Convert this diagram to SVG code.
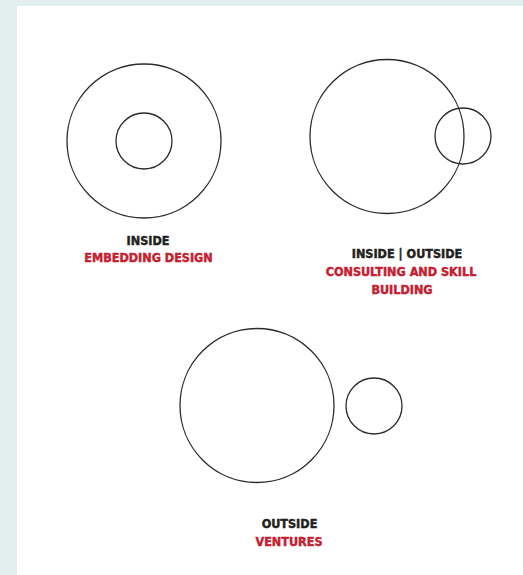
<svg xmlns="http://www.w3.org/2000/svg" width="523" height="575" viewBox="0 0 523 575">
<style>
.c{fill:none;stroke:#2b2b2b;stroke-width:1.3}
.t{font-family:"DejaVu Sans Condensed","DejaVu Sans",sans-serif;font-weight:bold;font-size:12.5px;text-anchor:middle;stroke-width:0.45}
.k{fill:#231f20;stroke:#231f20}
.r{fill:#c4202f;stroke:#c4202f}
</style>
<rect width="523" height="575" fill="#e3eeef"/>
<rect x="17" y="6" width="506" height="569" fill="#ffffff"/>
<g id="inside">
<circle class="c" cx="144" cy="141" r="77"/>
<circle class="c" cx="144" cy="141" r="28"/>
<text class="t k" x="148" y="245">INSIDE</text>
<text class="t r" x="148.5" y="262">EMBEDDING DESIGN</text>
</g>
<g id="inside-outside">
<circle class="c" cx="387" cy="136.5" r="77"/>
<circle class="c" cx="463" cy="136" r="28"/>
<text class="t k" x="407" y="258">INSIDE | OUTSIDE</text>
<text class="t r" x="401" y="276">CONSULTING AND SKILL</text>
<text class="t r" x="402" y="294">BUILDING</text>
</g>
<g id="outside">
<circle class="c" cx="257" cy="405.5" r="77"/>
<circle class="c" cx="374" cy="406" r="28"/>
<text class="t k" x="289.5" y="528">OUTSIDE</text>
<text class="t r" x="289" y="546">VENTURES</text>
</g>
<g id="connectors"/>
</svg>
